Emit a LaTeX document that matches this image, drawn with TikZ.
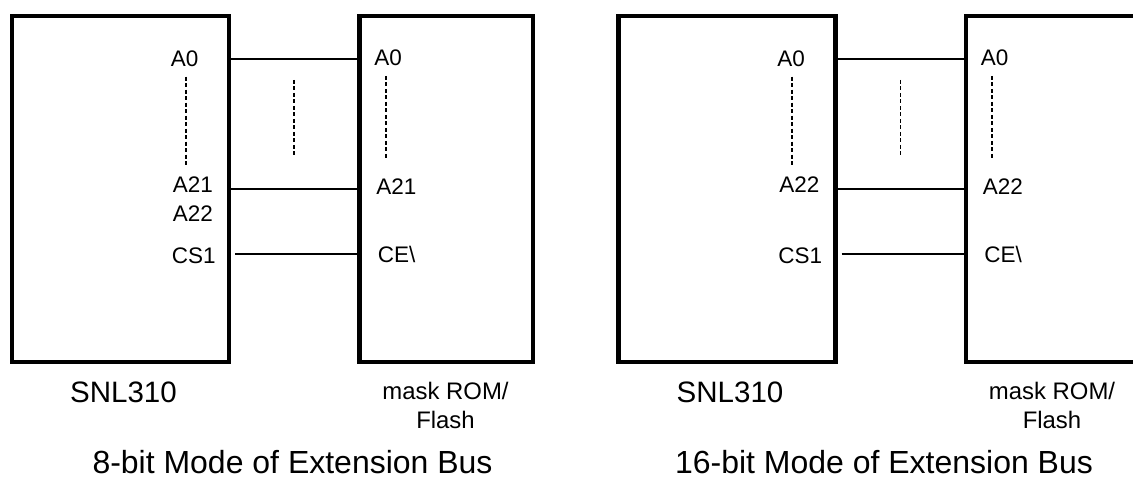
\documentclass[tikz,border=0pt]{standalone}
\usepackage{fontspec}
\setmainfont{Liberation Sans}
\usetikzlibrary{calc}

\begin{document}
\begin{tikzpicture}[
  chip/.style={draw, line width=2.3pt, inner sep=0pt, minimum height=6.92cm},
  pin/.style={inner sep=0pt, anchor=west, font=\fontsize{12.8}{15}\selectfont},
  wire/.style={line width=1.1pt},
  gap/.style={line width=1.1pt, dash pattern=on 0.08cm off 0.05cm},
  part/.style={inner sep=0pt, font=\fontsize{16.8}{20}\selectfont},
  mem/.style={inner sep=0pt, anchor=north, align=center, font=\fontsize{13.6}{16.5}\selectfont},
  caption/.style={inner sep=0pt, font=\fontsize{18.2}{22}\selectfont}]
  \useasboundingbox (0,0) rectangle (22.66,-9.54);
  \node[chip, minimum width=4.34cm] (snlA) at (2.41,-3.78) {};
  \node[chip, minimum width=3.47cm] (romA) at (8.925,-3.78) {};
  \node[pin] (a0A) at (3.41,-1.18) {A0};
  \node[pin] (a21A) at (3.45,-3.69) {A21};
  \node[pin] (a22A) at (3.45,-4.27) {A22};
  \node[pin] (csA) at (3.43,-5.12) {CS1};
  \node[pin] (ra0A) at (7.48,-1.15) {A0};
  \node[pin] (ra21A) at (7.52,-3.74) {A21};
  \node[pin] (ceA) at (7.55,-5.08) {CE\textbackslash};
  \draw[wire] (snlA.east |- a0A) -- (romA.west |- a0A);
  \draw[wire] (snlA.east) -- (romA.west);
  \draw[wire] ([xshift=0.08cm]snlA.east |- ceA) -- ([xshift=0.09cm]romA.west |- ceA);
  \draw[gap] (3.714,-1.534) -- (3.714,-3.334);
  \draw[gap] (5.88,-1.60) -- (5.88,-3.12);
  \draw[gap] (7.714,-1.52) -- (7.714,-3.20);
  \node[part] (nameA) at (2.47,-7.84) {SNL310};
  \node[mem] (memA) at (8.91,-7.64) {mask ROM/\\Flash};
  \node[caption] (capA) at (5.85,-9.24) {8-bit Mode of Extension Bus};

  \node[chip, minimum width=4.34cm] (snlB) at (14.54,-3.78) {};
  \node[chip, minimum width=3.47cm] (romB) at (21.055,-3.78) {};
  \node[pin] (a0B) at (15.54,-1.18) {A0};
  \node[pin] (a22B) at (15.58,-3.69) {A22};
  \node[pin] (csB) at (15.56,-5.12) {CS1};
  \node[pin] (ra0B) at (19.61,-1.15) {A0};
  \node[pin] (ra22B) at (19.65,-3.74) {A22};
  \node[pin] (ceB) at (19.68,-5.08) {CE\textbackslash};
  \draw[wire] (snlB.east |- a0B) -- (romB.west |- a0B);
  \draw[wire] (snlB.east) -- (romB.west);
  \draw[wire] ([xshift=0.08cm]snlB.east |- ceB) -- ([xshift=0.09cm]romB.west |- ceB);
  \draw[gap] (15.844,-1.534) -- (15.844,-3.334);
  \draw[gap] (18.01,-1.60) -- (18.01,-3.12);
  \draw[gap] (19.844,-1.52) -- (19.844,-3.20);
  \node[part] (nameB) at (14.60,-7.84) {SNL310};
  \node[mem] (memB) at (21.04,-7.64) {mask ROM/\\Flash};
  \node[caption] (capB) at (17.68,-9.24) {16-bit Mode of Extension Bus};
\end{tikzpicture}
\end{document}
